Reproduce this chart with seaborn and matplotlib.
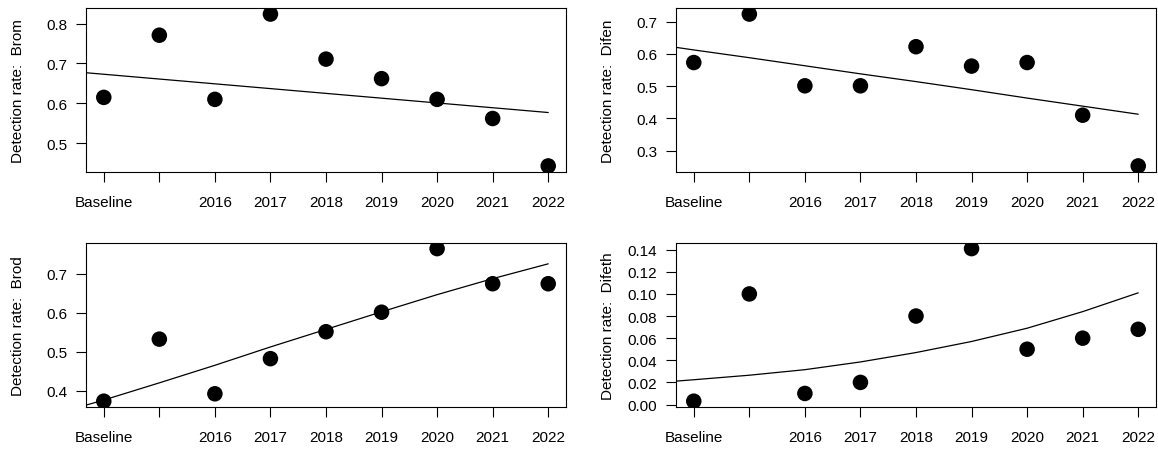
import numpy as np
import pandas as pd
import matplotlib
matplotlib.use("Agg")
import matplotlib.pyplot as plt
from matplotlib.ticker import FixedLocator, FixedFormatter
import seaborn as sns

# ---------------- data ----------------
categories = ["Baseline", "2015", "2016", "2017", "2018", "2019", "2020", "2021", "2022"]
tick_labels = ["Baseline", "", "2016", "2017", "2018", "2019", "2020", "2021", "2022"]

brom = [0.615, 0.771, 0.610, 0.824, 0.711, 0.662, 0.610, 0.562, 0.443]
difen = [0.573, 0.723, 0.501, 0.501, 0.622, 0.562, 0.573, 0.410, 0.253]
brod = [0.373, 0.532, 0.392, 0.482, 0.551, 0.601, 0.764, 0.674, 0.674]
difeth = [0.003, 0.100, 0.010, 0.020, 0.080, 0.141, 0.050, 0.060, 0.068]

# fitted trend, evaluated at category positions 0..9 (0 = just before Baseline)
trend_pos = [0, 1, 2, 3, 4, 5, 6, 7, 8, 9]
brom_trend = [0.685, 0.673, 0.661, 0.649, 0.637, 0.625, 0.613, 0.601, 0.589, 0.577]
difen_trend = [0.637, 0.612, 0.588, 0.563, 0.538, 0.514, 0.489, 0.463, 0.438, 0.413]
brod_trend = [0.335, 0.376, 0.420, 0.465, 0.512, 0.557, 0.602, 0.646, 0.687, 0.725]
difeth_trend = [0.0185, 0.0224, 0.0265, 0.0315, 0.0385, 0.047, 0.057, 0.069, 0.084, 0.101]

brom_yticks = [0.5, 0.6, 0.7, 0.8]
difen_yticks = [0.3, 0.4, 0.5, 0.6, 0.7]
brod_yticks = [0.4, 0.5, 0.6, 0.7]
difeth_yticks = [0.00, 0.02, 0.04, 0.06, 0.08, 0.10, 0.12, 0.14]

panels = [
    ("Brom", brom, brom_trend, brom_yticks, "{:.1f}"),
    ("Difen", difen, difen_trend, difen_yticks, "{:.1f}"),
    ("Brod", brod, brod_trend, brod_yticks, "{:.1f}"),
    ("Difeth", difeth, difeth_trend, difeth_yticks, "{:.2f}"),
]

# ---------------- style ----------------
sns.set_theme(style="white")
plt.rcParams["font.family"] = ["Liberation Sans", "DejaVu Sans"]
plt.rcParams["axes.edgecolor"] = "black"
plt.rcParams["axes.linewidth"] = 0.8

W, H = 1158, 452
fig = plt.figure(figsize=(W / 100, H / 100), dpi=100)

# axes boxes in pixels: (left, top, right, bottom)
boxes = [
    (86, 9, 566, 173),
    (676, 9, 1156, 173),
    (86, 243.5, 566, 408.3),
    (676, 243.5, 1156, 408.3),
]

pos = np.arange(1, len(categories) + 1)

for (name, vals, trend, yticks, fmt), (l, t, r, b) in zip(panels, boxes):
    ax = fig.add_axes([l / W, 1 - b / H, (r - l) / W, (b - t) / H])
    df = pd.DataFrame({"pos": pos, "rate": vals, "cat": categories})
    tdf = pd.DataFrame({"pos": trend_pos, "rate": trend})

    sns.lineplot(data=tdf, x="pos", y="rate", ax=ax, color="black",
                 linewidth=0.9, sort=True)
    sns.scatterplot(data=df, x="pos", y="rate", ax=ax, color="black",
                    s=125, linewidth=0, edgecolor="none", zorder=3)

    n = len(pos)
    xr = n - 1
    ax.set_xlim(1 - 0.04 * xr, n + 0.04 * xr)
    lo, hi = min(vals), max(vals)
    yr = hi - lo
    ax.set_ylim(lo - 0.04 * yr, hi + 0.04 * yr)

    ax.xaxis.set_major_locator(FixedLocator(pos))
    ax.xaxis.set_major_formatter(FixedFormatter(tick_labels))
    ax.yaxis.set_major_locator(FixedLocator(yticks))
    ax.yaxis.set_major_formatter(FixedFormatter([fmt.format(v) for v in yticks]))

    ax.tick_params(axis="both", which="major", direction="out", length=7.5,
                   width=0.8, color="black", labelsize=11, labelcolor="black",
                   bottom=True, left=True)
    ax.tick_params(axis="x", pad=9)
    ax.tick_params(axis="y", pad=6)

    for sp in ax.spines.values():
        sp.set_visible(True)
        sp.set_color("black")
        sp.set_linewidth(0.8)

    ax.set_xlabel("")
    ax.set_ylabel(f"Detection rate:  {name}", fontsize=11, color="black", va="center")
    ax.yaxis.set_label_coords(-0.142, 0.5)

fig.savefig("out.png", dpi=100)
